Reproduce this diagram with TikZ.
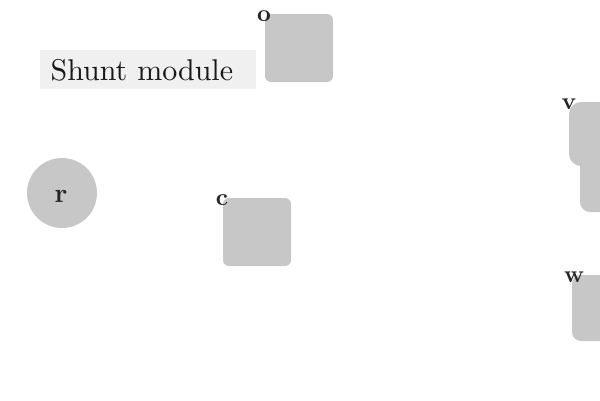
\documentclass[tikz,border=0pt]{standalone}
\usetikzlibrary{positioning}
\tikzset{
  unit/.style={fill=black!22, rounded corners=6pt, minimum width=68pt, minimum height=68pt, inner sep=0pt},
  tag/.style={font=\bfseries, text=black!85, inner sep=0pt, scale=2.4}
}
\begin{document}
\begin{tikzpicture}[x=1pt, y=-1pt]
	\useasboundingbox (0,0) rectangle (600,400);
	\clip (0,0) rectangle (600,400);
	% title
	\fill[black!6] (40,50) rectangle (256,89);
	\node[anchor=base west, inner sep=0pt, scale=3, text=black!90] (title) at (50,80) {Shunt module};
	% boxes
	\node[unit] (o) at (299,48) {};
	\node[unit] (c) at (257,232) {};
	\node[circle, fill=black!22, minimum size=70pt, inner sep=0pt] (r) at (62,193) {};
	\node[font=\bfseries, text=black!85, scale=2.7, inner sep=0pt] (rtag) at (61,196) {r};
	\node[unit, minimum height=64pt, rounded corners=12pt] (v) at (603,134) {};
	\node[unit, minimum height=82pt, rounded corners=10pt] (vb) at (614,171) {};
	\node[unit, minimum height=66pt, rounded corners=9pt] (w) at (606,308) {};
	% tags
	\node[tag] (otag) at (264,16) {o};
	\node[tag] (ctag) at (222,200) {c};
	\node[tag] (vtag) at (569,104) {v};
	\node[tag] (wtag) at (574,277) {w};
\end{tikzpicture}
\end{document}
